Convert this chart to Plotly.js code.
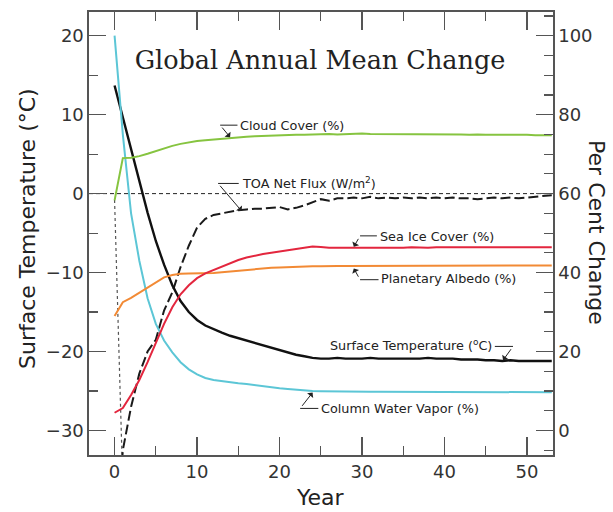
<!DOCTYPE html>
<html>
<head>
<meta charset="utf-8">
<script src="https://cdn.plot.ly/plotly-3.0.1.min.js"></script>
<style>html,body{margin:0;padding:0;background:#fff;}#chart{width:613px;height:512px;}</style>
</head>
<body>
<div id="chart"></div>
<script>
// ---- Data ----
const years = [0,1,2,3,4,5,6,7,8,9,10,11,12,13,14,15,16,17,18,19,20,21,22,23,24,25,26,27,28,29,30,31,32,33,34,35,36,37,38,39,40,41,42,43,44,45,46,47,48,49,50,51,52,53];

// Surface Temperature (deg C) - left axis
const surfaceTemp = [13.7,9.6,5.6,1.6,-2.4,-6.0,-9.0,-11.6,-13.6,-15.0,-16.0,-16.7,-17.2,-17.6,-18.0,-18.3,-18.6,-18.9,-19.2,-19.5,-19.8,-20.1,-20.4,-20.6,-20.8,-20.9,-20.9,-20.8,-20.9,-20.9,-20.9,-20.8,-20.9,-20.9,-20.9,-20.9,-20.9,-20.9,-20.8,-20.9,-20.9,-20.9,-21.0,-21.0,-21.0,-21.1,-21.1,-21.2,-21.1,-21.2,-21.2,-21.2,-21.2,-21.2];

// TOA Net Flux (W/m2) - left axis
const toaYears = [0.9,1,2,3,4,5,6,7,8,9,10,11,12,13,14,15,16,17,18,19,20,21,22,23,24,25,26,27,28,29,30,31,32,33,34,35,36,37,38,39,40,41,42,43,44,45,46,47,48,49,50,51,52,53];
const toaFlux = [-34.0,-32.5,-27.0,-22.8,-20.0,-18.5,-14.8,-12.5,-9.3,-6.6,-4.3,-3.2,-2.7,-2.5,-2.3,-2.1,-2.0,-1.9,-1.9,-1.8,-1.7,-2.0,-1.8,-1.5,-1.1,-0.7,-0.9,-0.6,-0.6,-0.5,-0.6,-0.4,-0.6,-0.5,-0.6,-0.5,-0.6,-0.5,-0.6,-0.5,-0.6,-0.5,-0.6,-0.6,-0.7,-0.6,-0.5,-0.6,-0.5,-0.6,-0.5,-0.4,-0.3,-0.2];
// initial dotted drop of the TOA flux
const toaDropYears = [0, 0.92];
const toaDropFlux = [-0.8, -34.0];

// Per cent series - right axis
const cloudCover = [58.3,69.0,69.1,69.5,70.1,70.8,71.5,72.1,72.6,73.0,73.3,73.5,73.7,73.9,74.1,74.3,74.4,74.5,74.6,74.7,74.8,74.8,74.9,74.9,75.0,75.0,75.1,75.0,75.1,75.2,75.2,75.1,75.1,75.0,75.1,75.1,75.0,75.1,75.0,75.0,75.1,75.0,75.0,74.9,75.0,74.9,74.9,75.0,74.9,74.9,74.9,74.8,74.8,74.8];
const seaIce = [4.5,5.7,9.0,12.8,17.3,22.0,27.0,31.2,34.5,36.8,38.6,39.8,40.7,41.5,42.4,43.2,43.8,44.3,44.7,45.0,45.3,45.6,46.0,46.3,46.6,46.5,46.3,46.3,46.3,46.2,46.2,46.2,46.3,46.3,46.3,46.3,46.4,46.3,46.3,46.4,46.4,46.4,46.4,46.5,46.4,46.4,46.4,46.5,46.4,46.4,46.4,46.4,46.4,46.4];
const albedo = [29.0,32.5,33.6,34.9,36.2,37.6,38.8,39.4,39.7,39.8,39.8,39.8,39.9,40.1,40.3,40.5,40.7,40.9,41.1,41.2,41.3,41.4,41.5,41.6,41.6,41.6,41.7,41.7,41.7,41.7,41.7,41.7,41.7,41.7,41.7,41.7,41.7,41.7,41.7,41.7,41.7,41.7,41.7,41.7,41.7,41.7,41.7,41.7,41.8,41.8,41.8,41.8,41.8,41.8];
const waterVapor = [100,75,55,43,33.5,27,22.8,19.8,17.3,15.5,14.2,13.3,12.8,12.5,12.2,12.0,11.8,11.5,11.2,11.0,10.7,10.5,10.3,10.1,10.0,9.95,9.9,9.9,9.85,9.85,9.8,9.8,9.8,9.8,9.8,9.8,9.8,9.8,9.8,9.75,9.75,9.75,9.75,9.75,9.7,9.7,9.7,9.7,9.7,9.7,9.7,9.7,9.7,9.7];

// Axis ticks and labels
const xTicks = [0,10,20,30,40,50];
const yLeftTicks = [-30,-20,-10,0,10,20];
const yRightTicks = [0,20,40,60,80,100];

const titleText = 'Global Annual Mean Change';
const xTitle = 'Year';
const yLeftTitle = 'Surface Temperature (\u00B0C)';
const yRightTitle = 'Per Cent Change';

// ---- Layout constants ----
const leftRange = [-33.1, 23.0];
const rightRange = [(leftRange[0] + 30) * 2, (leftRange[1] + 30) * 2];
const sans = 'DejaVu Sans, sans-serif';
const axisCol = '#555';

const traces = [
  {x: toaDropYears, y: toaDropFlux, yaxis: 'y', mode: 'lines', line: {color: '#555', width: 1.2, dash: 'dot'}, hoverinfo: 'skip'},
  {x: toaYears, y: toaFlux, yaxis: 'y', mode: 'lines', line: {color: '#1a1a1a', width: 2, dash: '10px,4px'}},
  {x: years, y: surfaceTemp, yaxis: 'y', mode: 'lines', line: {color: '#111', width: 2.4}},
  {x: years, y: waterVapor, yaxis: 'y2', mode: 'lines', line: {color: '#5cc6d6', width: 2}},
  {x: years, y: albedo, yaxis: 'y2', mode: 'lines', line: {color: '#f28a35', width: 2}},
  {x: years, y: seaIce, yaxis: 'y2', mode: 'lines', line: {color: '#e3263e', width: 2}},
  {x: years, y: cloudCover, yaxis: 'y2', mode: 'lines', line: {color: '#86c440', width: 2}}
];

function label(text, x, y, anchor) {
  return {text: text, x: x, y: y, xref: 'x', yref: 'y', xanchor: anchor, yanchor: 'middle', showarrow: false,
          font: {family: sans, size: 12.8, color: '#222'}};
}
function arrow(hx, hy, kx, ky) {
  return {text: ' ', x: hx, y: hy, ax: kx, ay: ky, xref: 'x', yref: 'y', axref: 'x', ayref: 'y', showarrow: true,
          arrowhead: 1, arrowsize: 1.3, arrowwidth: 1, arrowcolor: '#222', standoff: 0, startstandoff: 0,
          font: {size: 2}};
}
function seg(x0, x1, y) {
  return {type: 'line', xref: 'x', yref: 'y', x0: x0, x1: x1, y0: y, y1: y, line: {color: '#222', width: 1}};
}

const annotations = [
  label('Cloud Cover (%)', 15.0, 8.67, 'left'), arrow(14.0, 7.15, 12.8, 8.67),
  label('TOA Net Flux (W/m<sup>2</sup>)', 15.2, 1.35, 'left'), arrow(15.4, -2.2, 12.55, 1.29),
  label('Sea Ice Cover (%)', 31.9, -5.45, 'left'), arrow(29.0, -6.73, 29.76, -5.35),
  label('Planetary Albedo (%)', 32.1, -10.8, 'left'), arrow(29.0, -9.47, 29.76, -10.9),
  label('Surface Temperature (<sup>o</sup>C)', 46.0, -19.2, 'right'), arrow(47.1, -21.1, 48.3, -19.35),
  label('Column Water Vapor (%)', 24.8, -27.2, 'left'), arrow(24.0, -25.2, 22.5, -27.2),
  {text: xTitle, xref: 'paper', yref: 'paper', x: 0.498, y: -0.095, xanchor: 'center', yanchor: 'middle', showarrow: false,
   font: {family: sans, size: 22, color: '#222'}},
  {text: yLeftTitle, xref: 'paper', yref: 'paper', x: -0.134, y: 0.512, xanchor: 'center', yanchor: 'middle', showarrow: false,
   textangle: -90, font: {family: sans, size: 22, color: '#222'}},
  {text: yRightTitle, xref: 'paper', yref: 'paper', x: 1.095, y: 0.503, xanchor: 'center', yanchor: 'middle', showarrow: false,
   textangle: 90, font: {family: sans, size: 22, color: '#222'}}
];

const shapes = [
  {type: 'line', xref: 'paper', x0: 0, x1: 1, yref: 'y', y0: 0, y1: 0, layer: 'below', line: {color: '#222', width: 1, dash: '4px,3px'}},
  seg(12.8, 14.9, 8.67),
  seg(12.55, 15.05, 1.29),
  seg(29.76, 31.8, -5.35),
  seg(29.76, 32.0, -10.9),
  seg(46.1, 48.3, -19.35),
  seg(22.5, 24.7, -27.2)
];

const tickFont = {family: sans, size: 18, color: '#333'};

const layout = {
  width: 613, height: 512,
  margin: {l: 89, r: 60, t: 12, b: 57},
  paper_bgcolor: '#fff', plot_bgcolor: '#fff',
  showlegend: false,
  title: {text: titleText, x: 320 / 613, y: 1 - 60 / 512, xanchor: 'center', yanchor: 'middle', xref: 'container', yref: 'container',
          font: {family: 'DejaVu Serif, serif', size: 25.5, color: '#222'}},
  xaxis: {range: [-3.1, 53.15], tickvals: xTicks, ticktext: xTicks.map(String), ticks: 'inside', ticklen: 18, tickwidth: 1.2, tickcolor: axisCol,
          minor: {tick0: 0, dtick: 5, ticks: 'inside', ticklen: 9, tickwidth: 1.2, tickcolor: axisCol},
          showline: true, linecolor: axisCol, linewidth: 1.6, mirror: 'ticks', showgrid: false, zeroline: false, tickfont: tickFont},
  yaxis: {range: leftRange, tickvals: yLeftTicks, ticktext: yLeftTicks.map(v => v < 0 ? '\u2212' + Math.abs(v) : String(v)),
          ticks: 'inside', ticklen: 17, tickwidth: 1.2, tickcolor: axisCol,
          minor: {tick0: 0, dtick: 5, ticks: 'inside', ticklen: 9, tickwidth: 1.2, tickcolor: axisCol},
          showline: true, linecolor: axisCol, linewidth: 1.6, showgrid: false, zeroline: false, tickfont: tickFont},
  yaxis2: {range: rightRange, overlaying: 'y', side: 'right', tickvals: yRightTicks, ticktext: yRightTicks.map(String),
           ticks: 'inside', ticklen: 17, tickwidth: 1.2, tickcolor: axisCol,
           minor: {tick0: 0, dtick: 5, ticks: 'inside', ticklen: 9, tickwidth: 1.2, tickcolor: axisCol},
           showline: true, linecolor: axisCol, linewidth: 1.6, showgrid: false, zeroline: false, tickfont: tickFont},
  annotations: annotations,
  shapes: shapes
};

Plotly.newPlot('chart', traces, layout, {displayModeBar: false, staticPlot: true});
</script>
</body>
</html>
